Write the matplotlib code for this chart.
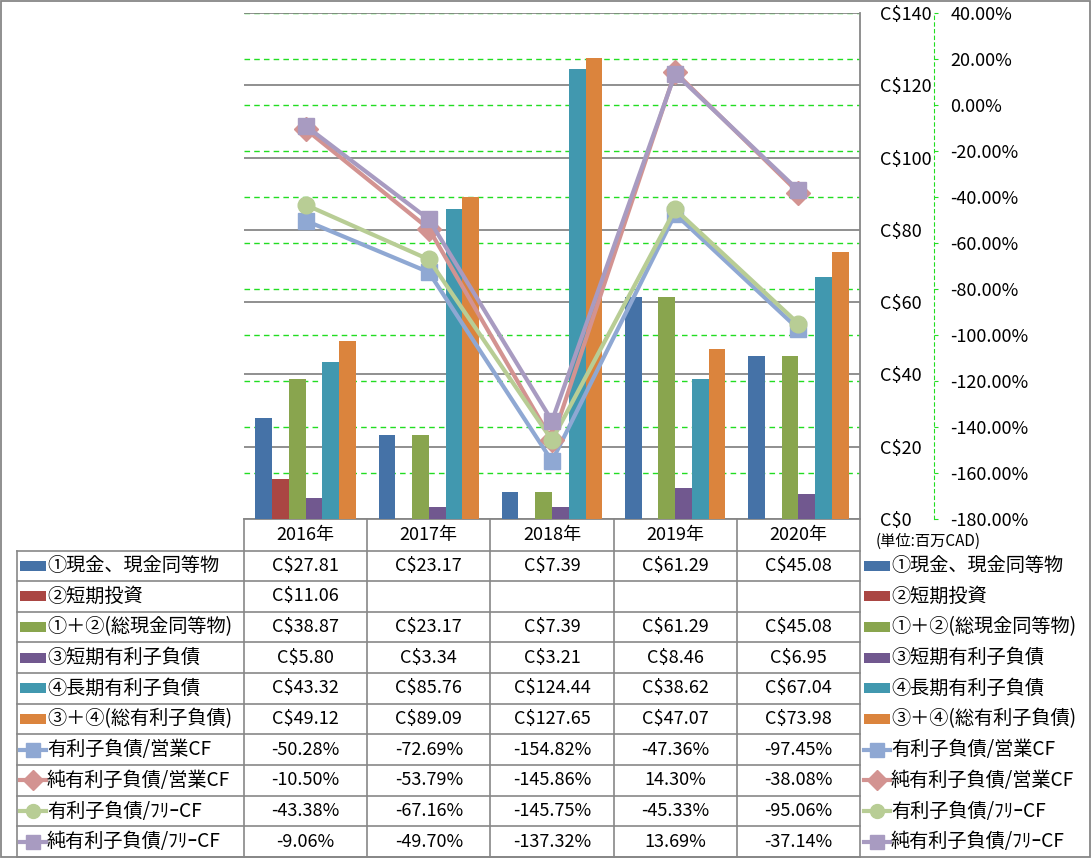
import numpy as np
import matplotlib.pyplot as plt
from matplotlib.lines import Line2D
from matplotlib.patches import Rectangle

plt.rcParams['font.family'] = ['Noto Sans CJK JP', 'DejaVu Sans']

years = ['2016年', '2017年', '2018年', '2019年', '2020年']

# bar series (C$ millions)
bar_names = ['①現金、現金同等物', '②短期投資', '①＋②(総現金同等物)',
             '③短期有利子負債', '④長期有利子負債', '③＋④(総有利子負債)']
cash = [27.81, 23.17, 7.39, 61.29, 45.08]
short_inv = [11.06, np.nan, np.nan, np.nan, np.nan]
total_cash = [38.87, 23.17, 7.39, 61.29, 45.08]
short_debt = [5.80, 3.34, 3.21, 8.46, 6.95]
long_debt = [43.32, 85.76, 124.44, 38.62, 67.04]
total_debt = [49.12, 89.09, 127.65, 47.07, 73.98]
bar_colors = ['#4572A7', '#AA4643', '#89A54E', '#71588F', '#4198AF', '#DB843D']

# line series (%)
line_names = ['有利子負債/営業CF', '純有利子負債/営業CF', '有利子負債/ﾌﾘｰCF', '純有利子負債/ﾌﾘｰCF']
debt_ocf = [-50.28, -72.69, -154.82, -47.36, -97.45]
net_debt_ocf = [-10.50, -53.79, -145.86, 14.30, -38.08]
debt_fcf = [-43.38, -67.16, -145.75, -45.33, -95.06]
net_debt_fcf = [-9.06, -49.70, -137.32, 13.69, -37.14]
line_colors = ['#8FA8D3', '#D39391', '#B8CD95', '#A89BC1']
line_markers = ['s', 'D', 'o', 's']
marker_sizes = [12, 12, 12, 12]

usd_ticks = np.arange(0, 141, 20)
pct_ticks = np.arange(-180, 41, 20)

bars = [cash, short_inv, total_cash, short_debt, long_debt, total_debt]
lines = [debt_ocf, net_debt_ocf, debt_fcf, net_debt_fcf]

W, H = 1091, 858
fig = plt.figure(figsize=(W / 100, H / 100), dpi=100)

# background axes in pixel coords for frame + data table
tab = fig.add_axes([0, 0, 1, 1])
tab.set_xlim(0, W)
tab.set_ylim(H, 0)
tab.axis('off')

px_left, px_right, px_top, px_bot = 244, 860, 13, 519
rect = [px_left / W, (H - px_bot) / H, (px_right - px_left) / W, (px_bot - px_top) / H]

# green grid for the percent scale (drawn below bars)
axg = fig.add_axes(rect)
axg.set_ylim(-180, 40)
axg.set_yticks(pct_ticks)
axg.set_xticks([])
axg.grid(axis='y', color='#22DD22', linestyle=(0, (4, 3)), lw=1)
axg.tick_params(left=False, labelleft=False)
for s in axg.spines.values():
    s.set_visible(False)
axg.patch.set_alpha(0)

ax = fig.add_axes(rect)
ax.patch.set_alpha(0)
x = np.arange(len(years))
w = 0.136
for i, (vals, c, name) in enumerate(zip(bars, bar_colors, bar_names)):
    ax.bar(x + (i - 2.5) * w, vals, width=w, color=c, label=name, zorder=3)
ax.set_xlim(-0.5, len(years) - 0.5)
ax.set_ylim(0, 140)
ax.set_xticks([])
ax.grid(axis='y', color='#878787', lw=1.3, zorder=0)
ax.set_axisbelow(True)
ax.spines['left'].set_visible(False)
ax.spines['top'].set_visible(False)
ax.spines['right'].set_color('#878787')
ax.spines['bottom'].set_color('#878787')
ax.spines['right'].set_linewidth(1.3)
ax.spines['bottom'].set_linewidth(1.3)

ax2 = ax.twinx()
for vals, c, m, ms in zip(lines, line_colors, line_markers, marker_sizes):
    ax2.plot(x, vals, color=c, lw=3, marker=m, ms=ms, mec=c, mfc=c)
ax2.set_ylim(-180, 40)
ax2.set_yticks(pct_ticks, labels=['%.2f%%' % v for v in pct_ticks])
for t, v in zip(ax2.yaxis.get_major_ticks(), pct_ticks):
    t.label2.set_color('#FF0000' if v < 0 else 'black')
ax2.tick_params(axis='y', color='#22DD22', length=3, pad=9, labelsize=13)
ax2.spines['right'].set_position(('outward', 53))
ax2.spines['right'].set_color('#22DD22')
ax2.spines['right'].set_linestyle((0, (3, 3)))
for s in ['left', 'top', 'bottom']:
    ax2.spines[s].set_visible(False)

# primary axis labels sit on the right of the plot (after twinx)
ax.yaxis.set_ticks_position('right')
ax.set_yticks(usd_ticks, labels=['C$%d' % v for v in usd_ticks])
ax.tick_params(axis='y', left=False, labelleft=False, right=True, labelright=True,
               length=0, pad=14.5, labelsize=13)

# unit note
tab.text(876, 541, '(単位:百万CAD)', fontsize=11, va='center', ha='left')

# frame
tab.add_patch(Rectangle((1, 1), W - 2.5, H - 2.5, fill=False, ec='#878787', lw=1.3))

# data table
gc = '#878787'
cat_w = (px_right - px_left) / len(years)
col_x = [px_left + k * cat_w for k in range(len(years) + 1)]
tab_left = 17
head_bot = 550.5
row_h = (857 - head_bot) / 10
row_y = [head_bot + k * row_h for k in range(11)]

for cx in col_x:
    tab.plot([cx, cx], [px_bot, 857], color=gc, lw=1.2)
tab.plot([tab_left, tab_left], [head_bot, 857], color=gc, lw=1.2)
for ry in row_y:
    tab.plot([tab_left, px_right], [ry, ry], color=gc, lw=1.2)
for k, yr in enumerate(years):
    tab.text(col_x[k] + cat_w / 2, (px_bot + head_bot) / 2, yr, fontsize=13, ha='center', va='center')

names = bar_names + line_names
rows = bars + lines
for r, (name, vals) in enumerate(zip(names, rows)):
    yc = (row_y[r] + row_y[r + 1]) / 2
    for kx in (20, 864):
        if r < len(bars):
            tab.add_patch(Rectangle((kx, yc - 5), 26, 10, color=bar_colors[r], lw=0))
        else:
            li = r - len(bars)
            tab.add_line(Line2D([kx, kx + 13, kx + 26], [yc, yc, yc], color=line_colors[li], lw=3,
                                marker=line_markers[li], markevery=[1],
                                ms=10, mfc=line_colors[li], mec=line_colors[li]))
        tab.text(kx + 27, yc, name, fontsize=13.8, ha='left', va='center')
    for k, v in enumerate(vals):
        if np.isnan(v):
            continue
        s = 'C$%.2f' % v if r < len(bars) else '%.2f%%' % v
        tab.text(col_x[k] + cat_w / 2, yc, s, fontsize=13, ha='center', va='center')

fig.savefig('out.png', dpi=100)
